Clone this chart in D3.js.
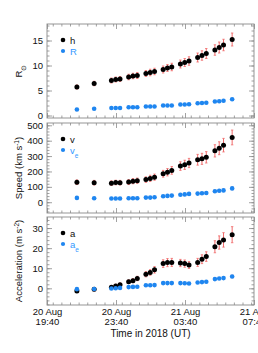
<!DOCTYPE html>
<html>
<head>
<meta charset="utf-8">
<script src="https://cdn.jsdelivr.net/npm/d3@7"></script>
<style>
  body { margin: 0; background: #fff; }
  text { font-family: "Liberation Sans", Arial, sans-serif; }
</style>
</head>
<body>
<div id="chart"></div>
<script>
// observation times (UT)
var times = ["2018-08-20T21:24", "2018-08-20T22:24", "2018-08-20T23:24", "2018-08-20T23:39",
  "2018-08-20T23:54", "2018-08-21T00:24", "2018-08-21T00:39", "2018-08-21T00:54",
  "2018-08-21T01:24", "2018-08-21T01:39", "2018-08-21T01:54", "2018-08-21T02:24",
  "2018-08-21T02:39", "2018-08-21T02:54", "2018-08-21T03:24", "2018-08-21T03:39",
  "2018-08-21T03:54", "2018-08-21T04:24", "2018-08-21T04:39", "2018-08-21T04:54",
  "2018-08-21T05:24", "2018-08-21T05:39", "2018-08-21T05:54", "2018-08-21T06:24"];

// height h and radius R (solar radii)
var hVal = [5.7, 6.4, 7.0, 7.2, 7.3, 7.7, 7.9, 8.0, 8.4, 8.6, 8.8, 9.2,
  9.5, 9.7, 10.3, 10.6, 10.9, 11.6, 12.0, 12.4, 13.1, 13.6, 14.1, 15.2];
var hErr = [0.4, 0.45, 0.5, 0.5, 0.5, 0.55, 0.55, 0.6, 0.6, 0.65, 0.65, 0.7,
  0.7, 0.75, 0.8, 0.8, 0.85, 0.9, 0.95, 1.0, 1.05, 1.1, 1.15, 1.3];
var rVal = [1.2, 1.35, 1.5, 1.5, 1.5, 1.65, 1.65, 1.65, 1.8, 1.8, 1.8, 2.0,
  2.0, 2.0, 2.2, 2.2, 2.25, 2.45, 2.5, 2.55, 2.8, 2.85, 2.95, 3.25];
var rErr = [0.05, 0.05, 0.05, 0.05, 0.05, 0.06, 0.06, 0.06, 0.07, 0.07, 0.07, 0.08,
  0.08, 0.08, 0.09, 0.09, 0.09, 0.1, 0.1, 0.1, 0.11, 0.11, 0.12, 0.13];

// speed v and expansion speed ve (km/s)
var vVal = [130, 127, 124, 128, 127, 131, 137, 140, 147, 155, 163, 185,
  195, 207, 235, 243, 255, 276, 282, 292, 334, 351, 371, 421];
var vErr = [15, 15, 15, 15, 15, 16, 17, 17, 18, 20, 20, 22,
  24, 25, 28, 30, 30, 35, 36, 37, 40, 42, 44, 48];
var veVal = [28, 26, 24, 24, 24, 26, 26, 26, 30, 30, 32, 39,
  41, 43, 49, 51, 54, 56, 58, 60, 71, 75, 77, 90];
var veErr = [3, 3, 3, 3, 3, 3, 3, 3, 4, 4, 4, 4,
  5, 5, 5, 5, 6, 6, 6, 6, 7, 7, 7, 8];

// acceleration a and expansion acceleration ae (m/s^2)
var aVal = [-1.3, -0.5, 0.5, 1.2, 1.8, 3.3, 3.8, 4.9, 7.0, 7.9, 9.2, 12.3,
  12.8, 12.9, 12.6, 12.3, 11.6, 12.9, 14.5, 15.8, 20.7, 22.8, 24.1, 26.7];
var aErr = [0.8, 0.8, 0.8, 0.8, 0.8, 0.9, 1.0, 1.1, 1.3, 1.4, 1.6, 1.9,
  2.0, 2.0, 1.8, 1.8, 1.7, 2.0, 2.2, 2.4, 3.0, 3.3, 3.6, 4.0];
var aeVal = [-0.4, -0.3, -0.1, 0.0, 0.2, 0.6, 0.7, 0.8, 1.5, 1.5, 1.6, 2.6,
  2.6, 2.6, 2.6, 2.5, 2.4, 2.9, 3.1, 3.3, 4.6, 4.9, 5.1, 5.9];
var aeErr = [0.3, 0.3, 0.3, 0.3, 0.3, 0.3, 0.3, 0.3, 0.3, 0.3, 0.3, 0.4,
  0.4, 0.4, 0.4, 0.4, 0.4, 0.4, 0.4, 0.4, 0.5, 0.5, 0.5, 0.6];

var xTickTimes = ["2018-08-20T19:40", "2018-08-20T23:40", "2018-08-21T03:40", "2018-08-21T07:40"];

var width = 258, height = 353;
var left = 47, right = 254;
var black = "#000", blue = "#1f86f0", blueText = "#3399ff", errColor = "#f06a6a", frameColor = "#8a8a8a";
var fontSize = "9.5px", smallFontSize = "6.5px";

var parseT = d3.utcParse("%Y-%m-%dT%H:%M");
var tDates = times.map(parseT);
var xTicks = xTickTimes.map(parseT);

var x = d3.scaleUtc()
        .domain([xTicks[0], xTicks[3]])
        .range([left, right]);

var panels = [
  {top: 24, bottom: 118, domain: [-0.5, 18.3], major: [0, 5, 10, 15], minorStep: 1,
   main: hVal, mainErr: hErr, sec: rVal, secErr: rErr,
   label: ["R", "⊙", "sub"], leg: ["h", "R", ""]},
  {top: 123, bottom: 213, domain: [-70, 515], major: [0, 100, 200, 300, 400, 500], minorStep: 20,
   main: vVal, mainErr: vErr, sec: veVal, secErr: veErr,
   label: ["Speed (km s", "-1", "super", ")"], leg: ["v", "v", "e"]},
  {top: 217, bottom: 305, domain: [-8.3, 35.5], major: [0, 10, 20, 30], minorStep: 2,
   main: aVal, mainErr: aErr, sec: aeVal, secErr: aeErr,
   label: ["Acceleration (m s", "-2", "super", ")"], leg: ["a", "a", "e"]}
];

var svg = d3.select("#chart")
        .append("svg")
        .attr("width", width)
        .attr("height", height)
        .style("background", "#fff");

var minorX = d3.utcMinute.every(30).range(xTicks[0], new Date(+xTicks[3] + 1));

panels.forEach(function (p, pi) {
  var y = d3.scaleLinear().domain(p.domain).range([p.bottom, p.top]);
  var g = svg.append("g");
  var minorY = d3.range(Math.ceil(p.domain[0] / p.minorStep) * p.minorStep, p.domain[1], p.minorStep);

  // axes (ticks pointing inward, IDL style)
  function styleAxis(sel) {
    sel.select(".domain").remove();
    sel.selectAll(".tick line").attr("stroke", frameColor).attr("stroke-width", 0.8);
    sel.selectAll(".tick text").attr("fill", "#111").attr("font-size", fontSize)
            .attr("font-family", "'Liberation Sans', Arial, sans-serif");
  }

  g.append("g").attr("transform", "translate(" + left + ",0)")
          .call(d3.axisLeft(y).tickValues(minorY).tickSize(-2.5).tickFormat(""))
          .call(styleAxis);
  g.append("g").attr("transform", "translate(" + left + ",0)")
          .call(d3.axisLeft(y).tickValues(p.major).tickSize(-5).tickPadding(4).tickFormat(d3.format("d")))
          .call(styleAxis);
  g.append("g").attr("transform", "translate(" + right + ",0)")
          .call(d3.axisRight(y).tickValues(minorY).tickSize(-2.5).tickFormat(""))
          .call(styleAxis);
  g.append("g").attr("transform", "translate(" + right + ",0)")
          .call(d3.axisRight(y).tickValues(p.major).tickSize(-5).tickFormat(""))
          .call(styleAxis);

  g.append("g").attr("transform", "translate(0," + p.top + ")")
          .call(d3.axisTop(x).tickValues(minorX).tickSize(-2.5).tickFormat(""))
          .call(styleAxis);
  g.append("g").attr("transform", "translate(0," + p.top + ")")
          .call(d3.axisTop(x).tickValues(xTicks).tickSize(-5).tickFormat(""))
          .call(styleAxis);
  g.append("g").attr("transform", "translate(0," + p.bottom + ")")
          .call(d3.axisBottom(x).tickValues(minorX).tickSize(-2.5).tickFormat(""))
          .call(styleAxis);
  var bx = g.append("g").attr("transform", "translate(0," + p.bottom + ")")
          .call(d3.axisBottom(x).tickValues(xTicks).tickSize(-5).tickPadding(3)
                  .tickFormat(pi == 2 ? d3.utcFormat("%d %b|%H:%M") : ""))
          .call(styleAxis);

  if (pi == 2) {
    bx.selectAll(".tick text").each(function () {
      var t = d3.select(this);
      var parts = t.text().split("|");
      t.text(null).attr("dy", null);
      t.append("tspan").attr("x", 0).attr("dy", "0.75em").text(parts[0]);
      t.append("tspan").attr("x", 0).attr("dy", "1.02em").text(parts[1]);
    });
  }

  g.append("rect")
          .attr("x", left).attr("y", p.top)
          .attr("width", right - left).attr("height", p.bottom - p.top)
          .attr("fill", "none").attr("stroke", frameColor).attr("stroke-width", 0.9);

  // y label
  var lab = g.append("text")
          .attr("transform", "translate(22," + ((p.top + p.bottom) / 2) + ") rotate(-90)")
          .attr("text-anchor", "middle")
          .attr("font-size", fontSize)
          .attr("fill", "#111");
  lab.append("tspan").text(p.label[0]);
  lab.append("tspan").attr("font-size", smallFontSize)
          .attr("baseline-shift", p.label[2]).text(p.label[1]);
  if (p.label[3])
    lab.append("tspan").text(p.label[3]);

  // series: main (black) then secondary (blue)
  var series = [
    {vals: p.main, errs: p.mainErr, color: black, r: 2.5},
    {vals: p.sec, errs: p.secErr, color: blue, r: 2.3}
  ];
  series.forEach(function (s) {
    var pts = tDates.map(function (t, i) { return {t: t, v: s.vals[i], e: s.errs[i]}; });
    var eg = g.append("g");
    eg.selectAll("line.err")
            .data(pts)
            .enter()
            .append("line")
            .attr("x1", function (d) { return x(d.t); })
            .attr("x2", function (d) { return x(d.t); })
            .attr("y1", function (d) { return y(d.v - d.e); })
            .attr("y2", function (d) { return y(d.v + d.e); })
            .attr("stroke", errColor)
            .attr("stroke-width", 1);
    eg.selectAll("line.cap")
            .data(pts.concat(pts))
            .enter()
            .append("line")
            .attr("x1", function (d) { return x(d.t) - 1.2; })
            .attr("x2", function (d) { return x(d.t) + 1.2; })
            .attr("y1", function (d, i) { return i < pts.length ? y(d.v - d.e) : y(d.v + d.e); })
            .attr("y2", function (d, i) { return i < pts.length ? y(d.v - d.e) : y(d.v + d.e); })
            .attr("stroke", errColor)
            .attr("stroke-width", 0.8);
    g.append("g").selectAll("circle")
            .data(pts)
            .enter()
            .append("circle")
            .attr("cx", function (d) { return x(d.t); })
            .attr("cy", function (d) { return y(d.v); })
            .attr("r", s.r)
            .attr("fill", s.color);
  });

  // legend
  var lg = g.append("g").attr("transform", "translate(63," + (p.top + 16) + ")");
  lg.append("circle").attr("r", 2.3).attr("fill", black);
  lg.append("text").attr("x", 7).attr("y", 3.5).attr("font-size", fontSize).attr("fill", "#111").text(p.leg[0]);
  lg.append("circle").attr("cy", 11).attr("r", 2.1).attr("fill", blue);
  var bt = lg.append("text").attr("x", 7).attr("y", 14.5).attr("font-size", fontSize).attr("fill", blueText).text(p.leg[1]);
  if (p.leg[2])
    bt.append("tspan").attr("font-size", smallFontSize).attr("baseline-shift", "sub").text(p.leg[2]);
});

svg.append("text")
        .attr("x", (left + right) / 2)
        .attr("y", 337)
        .attr("text-anchor", "middle")
        .attr("font-size", "10px")
        .attr("fill", "#111")
        .text("Time in 2018 (UT)");
</script>
</body>
</html>
